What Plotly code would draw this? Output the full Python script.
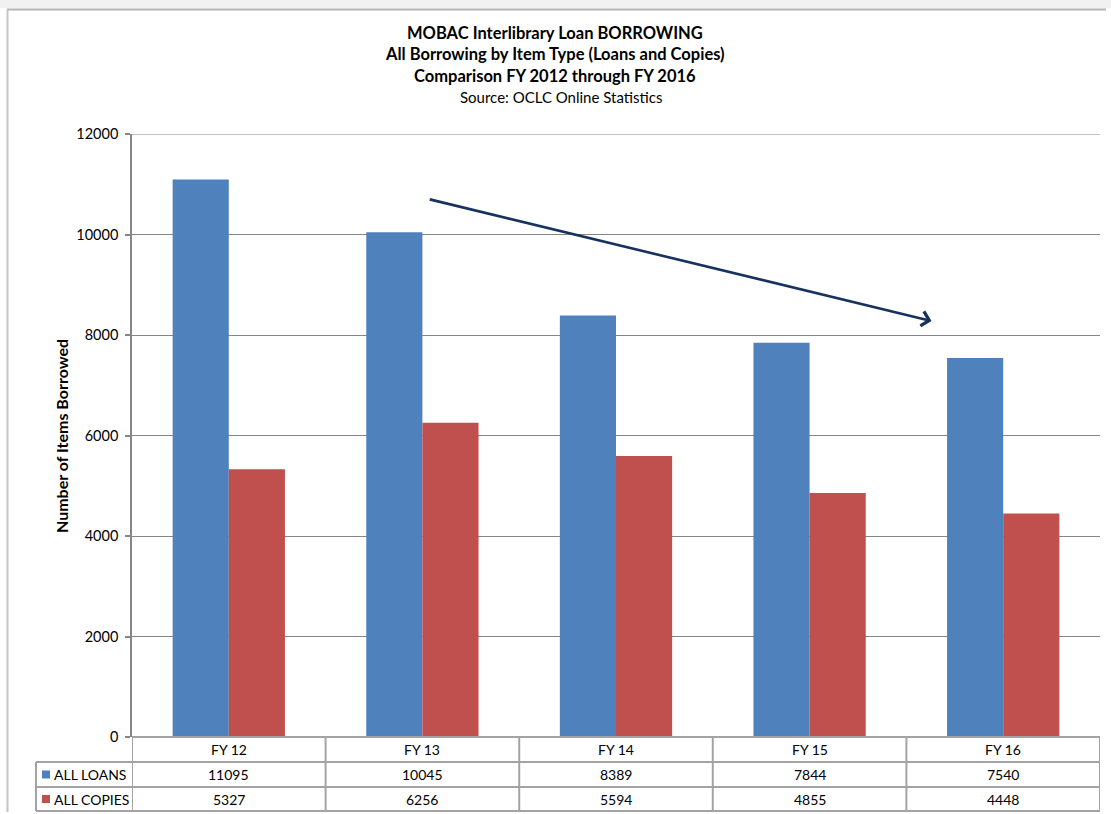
import plotly.graph_objects as go

# Interlibrary loan borrowing by fiscal year
categories = ["FY 12", "FY 13", "FY 14", "FY 15", "FY 16"]
all_loans = [11095, 10045, 8389, 7844, 7540]
all_copies = [5327, 6256, 5594, 4855, 4448]
series_names = ["ALL LOANS", "ALL COPIES"]
y_ticks = [0, 2000, 4000, 6000, 8000, 10000, 12000]
y_tick_labels = ["0", "2000", "4000", "6000", "8000", "10000", "12000"]

title_lines = [
    "MOBAC Interlibrary Loan BORROWING",
    "All Borrowing by Item Type (Loans and Copies)",
    "Comparison FY 2012 through FY 2016",
]
subtitle = "Source: OCLC Online Statistics"

BLUE = "#4F81BD"
RED = "#C0504D"
GRID = "#868686"
TABLE_LINE = "#a3a3a3"
FONT = "Lato, Carlito, Calibri, sans-serif"

W, H = 1111, 814
L, R, T, B = 132, 11, 134, 77
PW, PH = W - L - R, H - T - B


def px(x):
    """Pixel x -> paper x."""
    return (x - L) / PW


def py(y):
    """Pixel y (from top) -> paper y."""
    return (H - B - y) / PH


fig = go.Figure()
fig.add_trace(go.Bar(x=list(range(len(categories))), y=all_loans, name=series_names[0],
                     marker=dict(color=BLUE, line=dict(width=0))))
fig.add_trace(go.Bar(x=list(range(len(categories))), y=all_copies, name=series_names[1],
                     marker=dict(color=RED, line=dict(width=0))))

shapes = []
annotations = []

# Title block
for i, line in enumerate(title_lines):
    annotations.append(dict(text=f"<b>{line}</b>", x=px(555), y=py(33 + i * 21.3),
                            xref="paper", yref="paper", showarrow=False,
                            font=dict(family=FONT, size=16.5, color="#000"),
                            xanchor="center", yanchor="middle"))
annotations.append(dict(text=subtitle, x=px(561), y=py(97), xref="paper", yref="paper",
                        showarrow=False, font=dict(family=FONT, size=15, color="#000"),
                        xanchor="center", yanchor="middle"))

# Y axis title
annotations.append(dict(text="<b>Number of Items Borrowed</b>", x=px(62), y=py(436),
                        xref="paper", yref="paper", showarrow=False, textangle=-90,
                        font=dict(family=FONT, size=16, color="#000"),
                        xanchor="center", yanchor="middle"))

# Downward trend arrow
annotations.append(dict(text="", x=3.63, y=8279, ax=1.03, ay=10706,
                        xref="x", yref="y", axref="x", ayref="y",
                        showarrow=True, arrowhead=4, arrowsize=1.1, arrowwidth=2.6,
                        arrowcolor="#17325E", standoff=0, startstandoff=0))

# Top gridline at the end of the value range
shapes.append(dict(type="line", xref="paper", yref="y", x0=0, x1=1, y0=y_ticks[-1],
                   y1=y_ticks[-1], line=dict(color=GRID, width=1)))

# Data table under the plot
row_y = [737, 762, 787, 811]
n = len(categories)
for k in range(n + 1):
    shapes.append(dict(type="line", xref="x", yref="paper", x0=k - 0.5, x1=k - 0.5,
                       y0=py(row_y[0]), y1=py(row_y[-1]),
                       line=dict(color=TABLE_LINE, width=2)))
shapes.append(dict(type="line", xref="paper", yref="paper", x0=px(36), x1=px(36),
                   y0=py(row_y[1]), y1=py(row_y[-1]), line=dict(color=TABLE_LINE, width=2)))
shapes.append(dict(type="line", xref="x", yref="paper", x0=-0.5, x1=n - 0.5,
                   y0=py(row_y[0]), y1=py(row_y[0]), line=dict(color=TABLE_LINE, width=2)))
for yy in row_y[1:]:
    shapes.append(dict(type="line", xref="paper", yref="paper", x0=px(36), x1=1,
                       y0=py(yy), y1=py(yy), line=dict(color=TABLE_LINE, width=2)))

cell_font = dict(family=FONT, size=14, color="#000")
for k, cat in enumerate(categories):
    annotations.append(dict(text=cat, x=k, y=py((row_y[0] + row_y[1]) / 2), xref="x",
                            yref="paper", showarrow=False, font=cell_font,
                            xanchor="center", yanchor="middle"))
    for r, vals in enumerate([all_loans, all_copies]):
        annotations.append(dict(text=str(vals[k]), x=k,
                                y=py((row_y[r + 1] + row_y[r + 2]) / 2), xref="x",
                                yref="paper", showarrow=False, font=cell_font,
                                xanchor="center", yanchor="middle"))

for r, (name, col) in enumerate(zip(series_names, [BLUE, RED])):
    cy = (row_y[r + 1] + row_y[r + 2]) / 2
    shapes.append(dict(type="rect", xref="paper", yref="paper", x0=px(42), x1=px(50),
                       y0=py(cy + 4), y1=py(cy - 4), fillcolor=col, line=dict(width=0)))
    annotations.append(dict(text=name, x=px(52), y=py(cy), xref="paper", yref="paper",
                            showarrow=False, font=cell_font, xanchor="left",
                            yanchor="middle"))

# Window frame around the chart
shapes.append(dict(type="rect", xref="paper", yref="paper", x0=px(0), x1=px(W),
                   y0=py(0), y1=py(8), fillcolor="#f1f1f1", line=dict(width=0), layer="below"))
shapes.append(dict(type="line", xref="paper", yref="paper", x0=px(7), x1=px(1106),
                   y0=py(9.5), y1=py(9.5), line=dict(color="#b4b4b4", width=2)))
shapes.append(dict(type="line", xref="paper", yref="paper", x0=px(7.5), x1=px(7.5),
                   y0=py(9.5), y1=py(812), line=dict(color="#c4c4c4", width=2)))

fig.update_layout(
    width=W, height=H,
    margin=dict(l=L, r=R, t=T, b=B),
    paper_bgcolor="white", plot_bgcolor="white",
    barmode="group", bargap=0.42, bargroupgap=0,
    showlegend=False,
    shapes=shapes, annotations=annotations,
    font=dict(family=FONT, size=13, color="#000"),
    xaxis=dict(range=[-0.5, n - 0.5], showticklabels=False, showgrid=False,
               zeroline=False, showline=False, ticks="", fixedrange=True),
    yaxis=dict(range=[0, 12000], tickvals=y_ticks, ticktext=y_tick_labels,
               showgrid=True, gridcolor=GRID,
               gridwidth=1, zeroline=False, showline=True, linecolor=GRID, linewidth=1.5,
               ticks="outside", ticklen=5, tickcolor=GRID, tickwidth=1.5,
               tickfont=dict(family=FONT, size=14.5, color="#000"), ticklabelstandoff=4),
)

fig.write_html("out.html")
